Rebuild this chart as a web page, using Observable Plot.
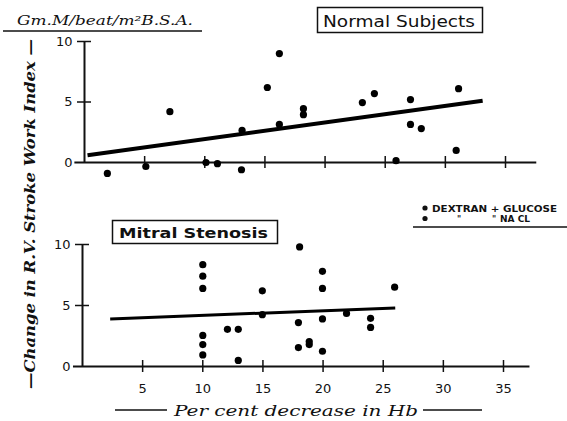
<!DOCTYPE html>
<html><head><meta charset="utf-8">
<script src="https://cdn.jsdelivr.net/npm/d3@7"></script>
<script src="https://cdn.jsdelivr.net/npm/@observablehq/plot@0.6"></script>
<style>
html,body{margin:0;padding:0;background:#fff;}
#wrap{position:relative;width:567px;height:421px;overflow:hidden;background:#fff;}
#wrap svg{position:absolute;left:0;top:0;}
</style></head><body><div id="wrap"></div>
<script>
// ---- data ----
const xTicks = [5, 10, 15, 20, 25, 30, 35];
const yTickLabels = [0, 5, 10];
const yTickMarks = [5, 10];

// Normal Subjects: % decrease in Hb vs change in RV stroke work index
const normalX = [1.9, 5.1, 7.1, 10.1, 11.05, 13.05, 13.1, 15.2, 16.2, 16.2, 18.2, 18.2, 23.1, 24.1, 25.9, 27.1, 27.1, 28.0, 30.9, 31.1];
const normalY = [-0.9, -0.33, 4.2, 0.0, -0.1, -0.6, 2.65, 6.2, 9.0, 3.15, 4.45, 3.95, 4.95, 5.7, 0.15, 5.2, 3.15, 2.8, 1.0, 6.1];
const normalFitX = [0.25, 33.1];
const normalFitY = [0.6, 5.1];

// Mitral Stenosis
const mitralX = [10, 10, 10, 10, 10, 10, 12.05, 12.95, 12.95, 14.95, 14.95, 18.05, 17.95, 17.95, 18.85, 18.85, 19.95, 19.95, 19.95, 19.95, 21.95, 23.95, 23.95, 25.95];
const mitralY = [8.35, 7.4, 6.4, 2.55, 1.8, 0.95, 3.05, 3.05, 0.5, 6.2, 4.25, 9.8, 3.6, 1.55, 2.05, 1.8, 7.8, 6.4, 3.9, 1.25, 4.35, 3.95, 3.2, 6.5];
const mitralFitX = [2.3, 26.0];
const mitralFitY = [3.9, 4.8];

const W = 567, H = 421;
const numFont = "DejaVu Sans";

function panel({xRange, yRange, xs, ys, fitX, fitY, xExtent, showXLabels, fitWidth}) {
  const pts = xs.map((x, i) => ({x, y: ys[i]}));
  const fit = fitX.map((x, i) => ({x, y: fitY[i]}));
  const marks = [
    Plot.ruleY([0], {x1: xExtent[0], x2: xExtent[1], stroke: "#111", strokeWidth: 2}),
    Plot.ruleX([0], {y1: 0, y2: 10, stroke: "#111", strokeWidth: 2}),
    Plot.ruleX(xTicks, {x: d => d, y1: 0, y2: 0, insetTop: -6, insetBottom: -6, stroke: "#111", strokeWidth: 1.5}),
    Plot.ruleY(yTickMarks, {y: d => d, x1: 0, x2: 0, insetLeft: -7, insetRight: -7, stroke: "#111", strokeWidth: 1.5}),
    Plot.text(yTickLabels, {x: 0, y: d => d, text: d => String(d), dx: -12, textAnchor: "end", fontSize: 13, fill: "#111", fontFamily: numFont}),
    Plot.line(fit, {x: "x", y: "y", stroke: "#000", strokeWidth: fitWidth, strokeLinecap: "butt"}),
    Plot.dot(pts, {x: "x", y: "y", r: 3.6, fill: "#000", stroke: "none"})
  ];
  if (showXLabels) {
    marks.push(Plot.text(xTicks, {x: d => d, y: 0, dy: 22, text: d => String(d), fontSize: 13, fill: "#111", fontFamily: numFont}));
  }
  return Plot.plot({
    width: W, height: H,
    x: {domain: [0, 35], range: xRange, axis: null},
    y: {domain: [0, 10], range: yRange, axis: null},
    style: {background: "transparent", fontFamily: numFont},
    marks
  });
}

const wrap = document.getElementById("wrap");
wrap.appendChild(panel({xRange: [84, 505], yRange: [162, 41], xs: normalX, ys: normalY, fitX: normalFitX, fitY: normalFitY, xExtent: [-0.8, 37.6], showXLabels: false, fitWidth: 4}));
wrap.appendChild(panel({xRange: [82, 503], yRange: [366, 244], xs: mitralX, ys: mitralY, fitX: mitralFitX, fitY: mitralFitY, xExtent: [-0.75, 37.2], showXLabels: true, fitWidth: 3}));

// ---- annotations (text overlay) ----
const NS = "http://www.w3.org/2000/svg";
const ov = document.createElementNS(NS, "svg");
ov.setAttribute("width", W); ov.setAttribute("height", H);
ov.innerHTML = `
  <g font-family="DejaVu Serif" fill="#111" style="white-space:pre">
    <text x="17" y="25" font-style="italic" font-size="13" textLength="176" lengthAdjust="spacingAndGlyphs">Gm.M/beat/m²B.S.A.</text>
    <line x1="3" y1="31" x2="202" y2="31" stroke="#111" stroke-width="1.5"/>
    <text transform="translate(35,214) rotate(-90)" text-anchor="middle" font-style="italic" font-weight="bold" font-size="14" textLength="350" lengthAdjust="spacingAndGlyphs">—Change in R.V. Stroke Work Index —</text>
    <line x1="115" y1="410" x2="167" y2="410" stroke="#111" stroke-width="1.5"/>
    <text x="174" y="416" font-style="italic" font-size="15" textLength="244" lengthAdjust="spacingAndGlyphs">Per cent  decrease in Hb</text>
    <line x1="423" y1="410" x2="482" y2="410" stroke="#111" stroke-width="1.5"/>
  </g>
  <g font-family="DejaVu Sans" fill="#111">
    <rect x="317.5" y="7.5" width="165" height="25" fill="none" stroke="#111" stroke-width="1.5"/>
    <text x="323" y="27" font-size="15" textLength="152" lengthAdjust="spacingAndGlyphs">Normal Subjects</text>
    <rect x="112.5" y="220.5" width="165" height="23" fill="none" stroke="#111" stroke-width="1.5"/>
    <text x="119" y="238" font-size="14" font-weight="bold" textLength="149" lengthAdjust="spacingAndGlyphs">Mitral Stenosis</text>
    <circle cx="425" cy="208" r="2.6"/>
    <text x="432" y="211.5" font-size="8" font-weight="bold" textLength="125" lengthAdjust="spacingAndGlyphs">DEXTRAN + GLUCOSE</text>
    <circle cx="425" cy="218.5" r="2.6"/>
    <text x="457" y="222" font-size="8" font-weight="bold">"</text>
    <text x="492" y="222" font-size="8" font-weight="bold">"</text>
    <text x="500" y="222" font-size="8" font-weight="bold" textLength="30" lengthAdjust="spacingAndGlyphs">NA CL</text>
    <line x1="413" y1="227" x2="567" y2="227" stroke="#111" stroke-width="1.5"/>
  </g>`;
wrap.appendChild(ov);
</script>
</body></html>
